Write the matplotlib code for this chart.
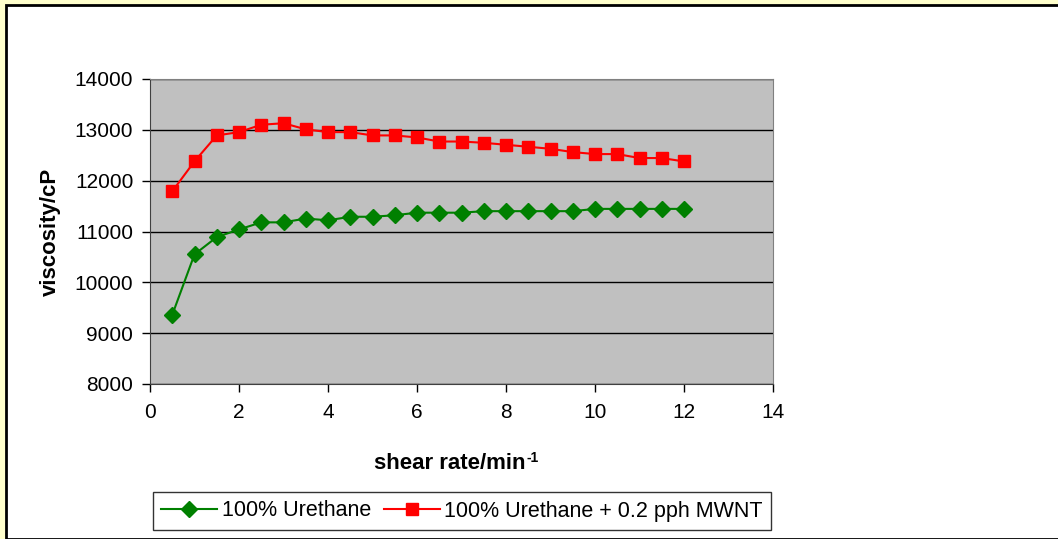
import numpy as np
import matplotlib.pyplot as plt
from matplotlib.patches import Rectangle

plt.rcParams['font.family'] = ['Liberation Sans', 'DejaVu Sans']

shear = np.arange(1, 25) * 0.5
urethane = [9360, 10550, 10890, 11040, 11180, 11180, 11255, 11220, 11290, 11290,
            11320, 11370, 11370, 11370, 11400, 11400, 11400, 11400, 11400, 11445,
            11445, 11445, 11445, 11445]
mwnt = [11790, 12380, 12890, 12955, 13100, 13130, 13010, 12955, 12955, 12890,
        12890, 12850, 12770, 12770, 12745, 12706, 12667, 12627, 12562, 12523,
        12523, 12445, 12445, 12378]
labels = ["100% Urethane", "100% Urethane + 0.2 pph MWNT"]

W, H = 1058, 539
fig = plt.figure(figsize=(W / 100, H / 100), dpi=100)
fig.patch.set_facecolor('#FFFFCC')
# white chart area with black border, behind the axes
fig.patches.append(Rectangle((6 / W, 0), 1, 1 - 5 / H, transform=fig.transFigure,
                             facecolor='white', edgecolor='black', linewidth=2,
                             zorder=-10))

ax = fig.add_axes([150 / W, 1 - 384 / H, (773 - 150) / W, (384 - 79) / H])
ax.set_facecolor('#C0C0C0')

ax.plot(shear, urethane, '-D', color='#008000', markersize=8, linewidth=1.5,
        label=labels[0])
ax.plot(shear, mwnt, '-s', color='#FF0000', markersize=8, linewidth=1.5,
        label=labels[1])

ax.set_xlim(0, 14)
ax.set_ylim(8000, 14000)
ax.set_xticks(range(0, 15, 2))
ax.set_yticks(range(8000, 14001, 1000))
ax.yaxis.grid(True, color='black', linewidth=1)
ax.set_axisbelow(True)
ax.tick_params(labelsize=15, direction='out', length=6, width=1, color='black')
ax.tick_params(axis='x', pad=8)
ax.tick_params(axis='y', pad=6)
for s in ['top', 'right']:
    ax.spines[s].set_color('#808080')
for s in ['left', 'bottom']:
    ax.spines[s].set_color('#404040')

ax.set_ylabel('viscosity/cP', fontsize=16, fontweight='bold', labelpad=10)
ax.set_xlabel('shear rate/min', fontsize=16, fontweight='bold', labelpad=22)
ax.xaxis.label.set_x(0.5 - 12 / 623)

fig.legend(loc='center', bbox_to_anchor=(462 / W, 1 - 511 / H), ncol=2,
           fontsize=15.5, frameon=True, fancybox=False, edgecolor='black',
           handlelength=2.6, handletextpad=0.2, columnspacing=0.6,
           borderpad=0.4).get_frame().set_linewidth(1)

# superscript -1 after the x label
fig.canvas.draw()
bb = ax.xaxis.label.get_window_extent()
fig.text(bb.x1 + 1, bb.y1 + 2, '-1', fontsize=10, fontweight='bold',
         ha='left', va='top', transform=None)

fig.savefig('out.png', dpi=100, facecolor=fig.get_facecolor())
